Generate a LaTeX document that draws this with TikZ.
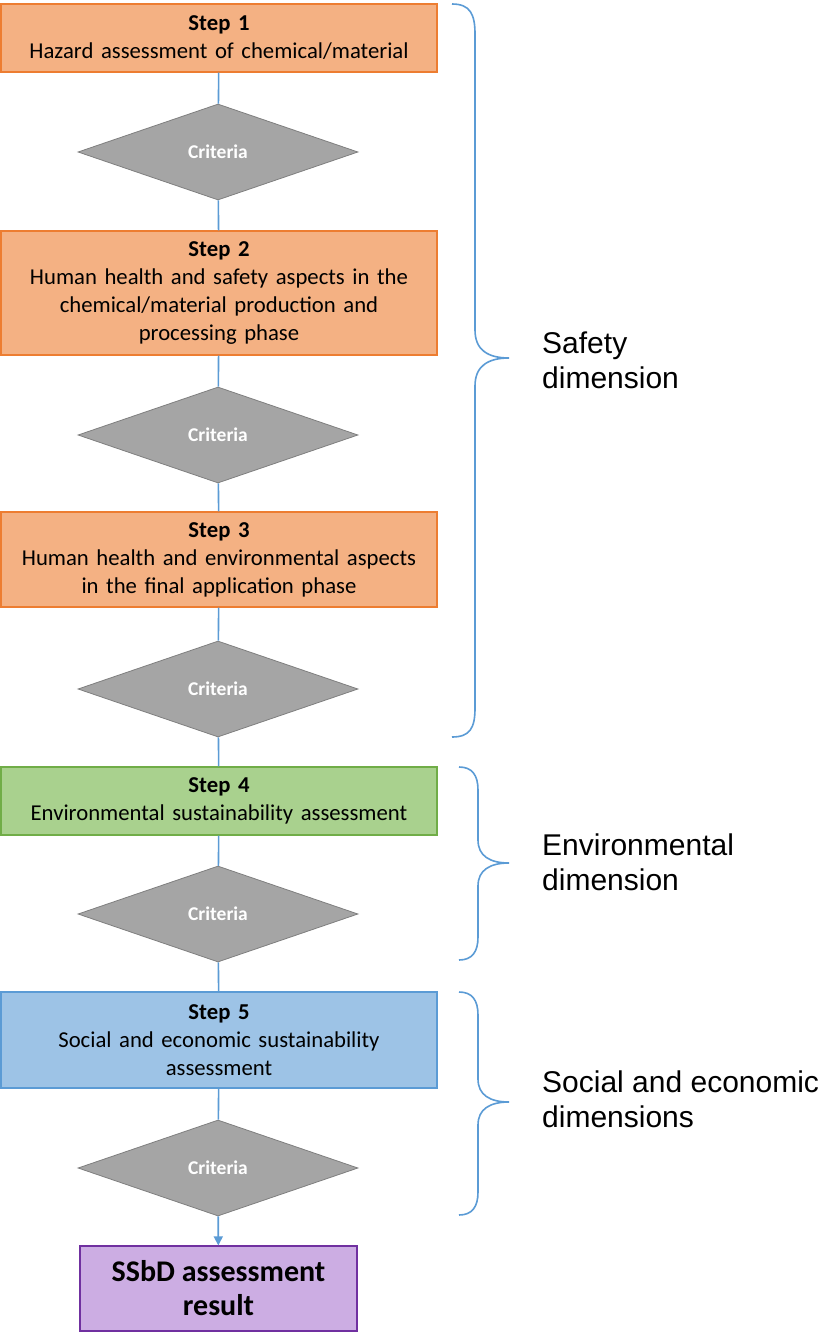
\documentclass[tikz,border=0pt]{standalone}
\usepackage{fontspec}
\setmainfont{Carlito}
\newfontfamily\labelfont{Liberation Sans}
\usetikzlibrary{shapes.geometric,arrows.meta}
\definecolor{orfill}{HTML}{F4B183}
\definecolor{ordraw}{HTML}{ED7D31}
\definecolor{grfill}{HTML}{A9D18E}
\definecolor{grdraw}{HTML}{70AD47}
\definecolor{blfill}{HTML}{9DC3E6}
\definecolor{bldraw}{HTML}{5B9BD5}
\definecolor{pufill}{HTML}{CCADE3}
\definecolor{pudraw}{HTML}{7030A0}
\definecolor{dmfill}{HTML}{A5A5A5}
\definecolor{dmdraw}{HTML}{7F7F7F}
\definecolor{linec}{HTML}{5B9BD5}
\tikzset{
  stepbox/.style={rectangle, draw, line width=1.2pt, minimum width=436pt, inner sep=0pt, align=center, text width=430pt, font=\fontsize{22.7}{28}\selectfont},
  orbox/.style={stepbox, fill=orfill, draw=ordraw},
  grbox/.style={stepbox, fill=grfill, draw=grdraw},
  blbox/.style={stepbox, fill=blfill, draw=bldraw},
  crit/.style={diamond, draw=dmdraw, fill=dmfill, line width=0.8pt, minimum width=280pt, minimum height=96pt, inner sep=0pt, text=white, font=\fontsize{19.5}{22}\selectfont\bfseries},
  conn/.style={draw=linec, line width=1.6pt},
  brace/.style={draw=linec, line width=1.6pt},
  dimlabel/.style={anchor=north west, align=left, inner sep=0pt, font=\labelfont\fontsize{30}{35}\selectfont}
}
\begin{document}
\begin{tikzpicture}[x=1pt,y=-1pt]
\useasboundingbox (0,0) rectangle (823,1333);
\node[orbox, minimum height=68pt] (s1) at (219,38) {\textbf{Step 1}\\Hazard assessment of chemical/material};
\node[crit] (c1) at (218,152) {Criteria};
\node[orbox, minimum height=124pt] (s2) at (219,293) {\textbf{Step 2}\\Human health and safety aspects in the\\chemical/material production and\\processing phase};
\node[crit] (c2) at (218,435) {Criteria};
\node[orbox, minimum height=95pt] (s3) at (219,559.5) {\textbf{Step 3}\\Human health and environmental aspects\\in the final application phase};
\node[crit] (c3) at (218,689) {Criteria};
\node[grbox, minimum height=68pt] (s4) at (219,801) {\textbf{Step 4}\\Environmental sustainability assessment};
\node[crit] (c4) at (218,914) {Criteria};
\node[blbox, minimum height=96pt] (s5) at (219,1040) {\textbf{Step 5}\\Social and economic sustainability\\assessment};
\node[crit] (c5) at (218,1168) {Criteria};
\node[rectangle, draw=pudraw, fill=pufill, line width=1.2pt, minimum width=277pt, minimum height=85pt, inner sep=0pt, align=center, font=\fontsize{30}{34}\selectfont\bfseries] (res) at (218.5,1288.5) {SSbD assessment\\result};

\draw[conn] (s1) -- (c1);
\draw[conn] (c1) -- (s2);
\draw[conn] (s2) -- (c2);
\draw[conn] (c2) -- (s3);
\draw[conn] (s3) -- (c3);
\draw[conn] (c3) -- (s4);
\draw[conn] (s4) -- (c4);
\draw[conn] (c4) -- (s5);
\draw[conn] (s5) -- (c5);
\draw[conn, -{Triangle[length=9pt,width=9pt]}] (c5) -- (res);

% braces
\draw[brace] (452,4) .. controls (470,4) and (475,14) .. (475,34) -- (475,330)
  .. controls (475,350) and (488,358) .. (509,358)
  .. controls (488,358) and (475,366) .. (475,386) -- (475,708)
  .. controls (475,728) and (470,737) .. (452,737);
\draw[brace] (459,767) .. controls (472,767) and (478,775) .. (478,790) -- (478,840)
  .. controls (478,856) and (490,863) .. (509,863)
  .. controls (490,863) and (478,870) .. (478,886) -- (478,937)
  .. controls (478,952) and (472,960) .. (459,960);
\draw[brace] (459,992) .. controls (472,992) and (478,1000) .. (478,1015) -- (478,1079)
  .. controls (478,1095) and (490,1102) .. (509,1102)
  .. controls (490,1102) and (478,1109) .. (478,1125) -- (478,1192)
  .. controls (478,1207) and (472,1215) .. (459,1215);

\node[dimlabel] (l1) at (542,332) {Safety\\dimension};
\node[dimlabel] (l2) at (542,834) {Environmental\\dimension};
\node[dimlabel] (l3) at (542,1071) {Social and economic\\dimensions};
\end{tikzpicture}
\end{document}
